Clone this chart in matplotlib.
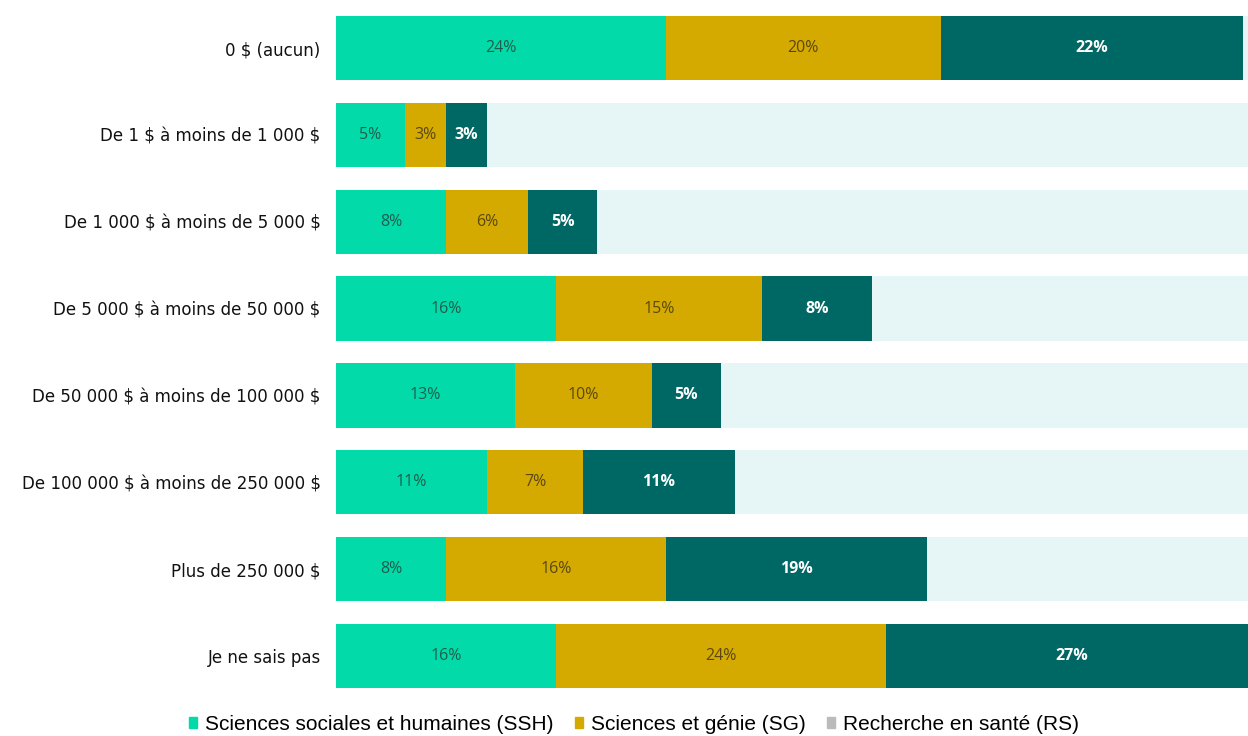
import matplotlib
matplotlib.use('Agg')
import matplotlib.pyplot as plt
from matplotlib.patches import Patch
import numpy as np

categories = ['0 $ (aucun)', 'De 1 $ à moins de 1 000 $', 'De 1 000 $ à moins de 5 000 $',
              'De 5 000 $ à moins de 50 000 $', 'De 50 000 $ à moins de 100 000 $',
              'De 100 000 $ à moins de 250 000 $', 'Plus de 250 000 $', 'Je ne sais pas']
ssh = [24, 5, 8, 16, 13, 11, 8, 16]
sg = [20, 3, 6, 15, 10, 7, 16, 24]
rs = [22, 3, 5, 8, 5, 11, 19, 27]
series_names = ['Sciences sociales et humaines (SSH)', 'Sciences et génie (SG)', 'Recherche en santé (RS)']

col_ssh = '#02DBA9'
col_sg = '#D4AA00'
col_rs = '#006864'
col_bg = '#E6F6F6'

fig = plt.figure(figsize=(12.48, 7.36), dpi=100)
ax = fig.add_axes([0.2692, 0.0497, 0.7308, 0.944])

y = np.arange(len(categories))
h = 0.74
xmax = 66.35
ax.barh(y, [100]*len(y), height=h, color=col_bg, zorder=1)
ax.barh(y, ssh, height=h, color=col_ssh, zorder=2)
ax.barh(y, sg, left=ssh, height=h, color=col_sg, zorder=2)
left2 = np.array(ssh) + np.array(sg)
ax.barh(y, rs, left=left2, height=h, color=col_rs, zorder=2)

for i in range(len(y)):
    ax.text(ssh[i]/2, y[i], '%d%%' % ssh[i], ha='center', va='center', color='#1E5E4E',
            fontsize=11.5, family='Open Sans', zorder=3)
    ax.text(ssh[i]+sg[i]/2, y[i], '%d%%' % sg[i], ha='center', va='center', color='#5A4810',
            fontsize=11.5, family='Open Sans', zorder=3)
    ax.text(left2[i]+rs[i]/2, y[i], '%d%%' % rs[i], ha='center', va='center', color='white',
            fontsize=11.5, family='Open Sans', fontweight='bold', zorder=3)

ax.set_xlim(0, xmax)
ax.set_ylim(len(y)-0.5, -0.5)
ax.set_yticks(y)
ax.set_yticklabels([c.replace('$', r'\$') for c in categories], fontsize=12,
                   family='DejaVu Sans', color='#111111')
ax.tick_params(axis='y', length=0, pad=11)
ax.set_xticks([])
for s in ax.spines.values():
    s.set_visible(False)

handles = [Patch(color=col_ssh), Patch(color=col_sg), Patch(color='#BBBBBB')]
fig.legend(handles, series_names, loc='center', bbox_to_anchor=(0.508, 0.016), ncol=3,
           frameon=False, prop={'family': 'Liberation Sans', 'size': 15},
           handlelength=0.4, handleheight=0.4, handletextpad=0.4, columnspacing=1.0)

fig.savefig('out.png', dpi=100)
